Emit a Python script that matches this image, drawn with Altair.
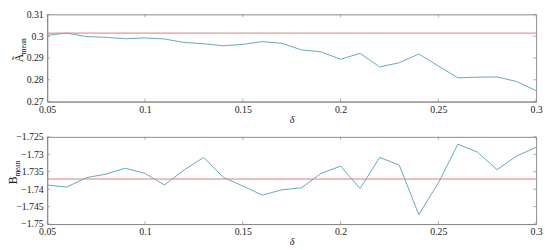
import altair as alt
import pandas as pd

delta = [0.05, 0.06, 0.07, 0.08, 0.09, 0.10, 0.11, 0.12, 0.13, 0.14, 0.15, 0.16, 0.17,
         0.18, 0.19, 0.20, 0.21, 0.22, 0.23, 0.24, 0.25, 0.26, 0.27, 0.28, 0.29, 0.30]
a_mean = [0.3004, 0.3014, 0.2998, 0.2995, 0.2988, 0.2992, 0.2987, 0.2971, 0.2965, 0.2956,
          0.2962, 0.2975, 0.2967, 0.2937, 0.2928, 0.2894, 0.2921, 0.2859, 0.2878, 0.2918,
          0.2863, 0.2809, 0.2812, 0.2813, 0.2792, 0.2750]
b_mean = [-1.7388, -1.7394, -1.7367, -1.7357, -1.7340, -1.7355, -1.7388, -1.7345, -1.7309,
          -1.7366, -1.7391, -1.7417, -1.7402, -1.7396, -1.7355, -1.7334, -1.7398, -1.7309,
          -1.7331, -1.7473, -1.7382, -1.7271, -1.7294, -1.7344, -1.7305, -1.7280]
a_ref = 0.3014
b_ref = -1.7371

x_ticks = [0.05, 0.1, 0.15, 0.2, 0.25, 0.3]
a_ticks = [0.27, 0.28, 0.29, 0.3, 0.31]
b_ticks = [-1.75, -1.745, -1.74, -1.735, -1.73, -1.725]

LINE = "#5ea9c4"
REF = "#e07a7a"
FRAME = "#8a8a8a"
FONT = "Liberation Serif, Times New Roman, serif"
W, H = 499, 89
TL = 3  # inward tick length


def panel(values, ref, yticks, ydom, letter, tx):
    df = pd.DataFrame({"d": delta, "v": values})
    xs = alt.Scale(domain=[0.05, 0.3], nice=False)
    ys = alt.Scale(domain=ydom, nice=False, zero=False)
    xaxis = alt.Axis(values=x_ticks, title="δ", titleFontStyle="italic",
                     labelExpr="format(datum.value, '~g')", grid=False,
                     ticks=False, labelPadding=3, titlePadding=0,
                     labelOverlap=False, labelFlush=False)
    yaxis = alt.Axis(values=yticks, title=None, labelExpr="format(datum.value, '~g')",
                     grid=False, ticks=False, labelPadding=4,
                     labelOverlap=False, labelFlush=False)
    X = lambda f: alt.X(f, scale=xs, axis=xaxis, title="δ")
    Y = lambda f: alt.Y(f, scale=ys, axis=yaxis, title=None)
    line = alt.Chart(df).mark_line(color=LINE, strokeWidth=1).encode(
        x=X("d:Q"), y=Y("v:Q"))
    refline = alt.Chart(pd.DataFrame({"r": [ref]})).mark_rule(color=REF, strokeWidth=1).encode(
        y=Y("r:Q"))
    xt = pd.DataFrame({"d": x_ticks})
    yt = pd.DataFrame({"v": yticks})
    xb = alt.Chart(xt).mark_tick(color=FRAME, size=TL, thickness=1).encode(
        x=X("d:Q"), y=alt.value(H - TL / 2))
    xtp = alt.Chart(xt).mark_tick(color=FRAME, size=TL, thickness=1).encode(
        x=X("d:Q"), y=alt.value(TL / 2))
    yl = alt.Chart(yt).mark_tick(color=FRAME, size=TL, thickness=1).encode(
        y=Y("v:Q"), x=alt.value(TL / 2))
    yr = alt.Chart(yt).mark_tick(color=FRAME, size=TL, thickness=1).encode(
        y=Y("v:Q"), x=alt.value(W - TL / 2))
    t1 = alt.Chart(pd.DataFrame({"t": [letter]})).mark_text(
        font=FONT, fontSize=12, angle=270, color="#222", align="center", baseline="middle"
    ).encode(text="t:N", x=alt.value(tx), y=alt.value(H / 2))
    t2 = alt.Chart(pd.DataFrame({"t": ["mean"]})).mark_text(
        font=FONT, fontSize=7.5, angle=270, color="#222", align="center", baseline="middle"
    ).encode(text="t:N", x=alt.value(tx + 5), y=alt.value(H / 2 - 12))
    return alt.layer(line, refline, xb, xtp, yl, yr, t1, t2).properties(width=W, height=H)


top = panel(a_mean, a_ref, a_ticks, [0.27, 0.31], "Ã", -29)
bot = panel(b_mean, b_ref, b_ticks, [-1.75, -1.725], "B̃", -35)

chart = alt.vconcat(top, bot, spacing=36, bounds="flush").properties(
    padding={"top": -2, "left": -2, "right": 0, "bottom": 0}
).configure_axis(
    labelFont=FONT, titleFont=FONT, labelFontSize=10, titleFontSize=10.5,
    titleFontWeight="normal",
    labelColor="#222", titleColor="#222", domainColor=FRAME, domainWidth=1,
).configure_view(stroke=FRAME, strokeWidth=1)

chart.save("out.html", embed_options={"renderer": "svg", "actions": False})
